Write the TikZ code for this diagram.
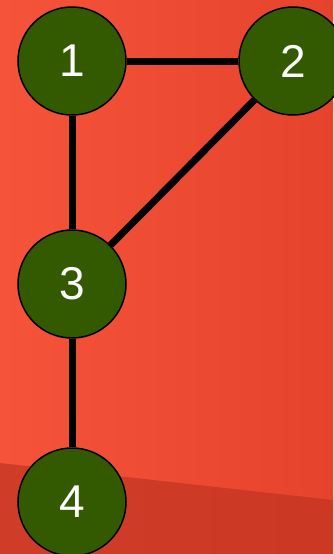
\documentclass[tikz,border=0pt]{standalone}
\usepackage{fontspec}
\setmainfont{Liberation Sans}
\definecolor{bgleft}{HTML}{F5533A}
\definecolor{bgright}{HTML}{E6432C}
\definecolor{bgdark}{HTML}{C03421}
\definecolor{nodegreen}{HTML}{335A00}
\begin{document}
\begin{tikzpicture}[x=1pt,y=-1pt]
      \useasboundingbox (0,0) rectangle (333,554);
      \shade[left color=bgleft,right color=bgright] (0,0) rectangle (333,554);
      \fill[bgdark,opacity=0.7] (0,463) -- (333,500) -- (333,554) -- (0,554) -- cycle;
      \begin{scope}[every node/.style={circle,draw=black,line width=1.5pt,fill=nodegreen,
          text=white,minimum size=108pt,inner sep=0pt,font=\fontsize{46}{46}\selectfont}]
        \node (1) at (72,61) {1};
        \node (2) at (293,61) {2};
        \node (3) at (72,284) {3};
        \node (4) at (72,502) {4};
      \end{scope}
      \begin{scope}[every edge/.style={draw,line width=7pt}]
        \path (1) edge (2);
        \path (1) edge (3);
        \path (2) edge (3);
        \path (3) edge (4);
      \end{scope}
    \end{tikzpicture}
\end{document}
